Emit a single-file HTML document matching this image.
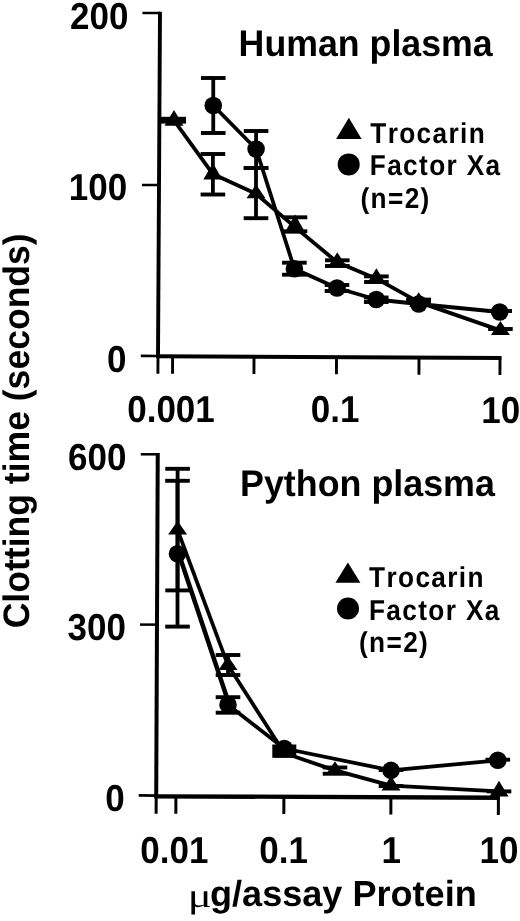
<!DOCTYPE html>
<html><head><meta charset="utf-8"><title>Clotting time</title>
<style>
html,body{margin:0;padding:0;background:#fff;}
body{width:520px;height:921px;overflow:hidden;}
svg{display:block;filter:blur(0.55px);}
text{font-family:"Liberation Sans", sans-serif;font-weight:bold;fill:#000;font-kerning:none;font-feature-settings:'kern' 0;text-rendering:geometricPrecision;}
</style></head><body>
<svg width="520" height="921" viewBox="0 0 520 921">
<rect width="520" height="921" fill="#fff"/>
<g fill="#000">
<!-- top axes -->
<line x1="160.0" y1="11.8" x2="158.0" y2="358.0" stroke="#000" stroke-width="3.9"/>
<line x1="158.0" y1="357.0" x2="157.9" y2="373.7" stroke="#000" stroke-width="2.9"/>
<line x1="156.5" y1="356.15" x2="501.4" y2="357.9" stroke="#000" stroke-width="4.0"/>
<line x1="140.8" y1="355.85" x2="158.0" y2="356.0" stroke="#000" stroke-width="2.7"/>
<line x1="142.4" y1="13.0" x2="160.0" y2="13.0" stroke="#000" stroke-width="2.5"/>
<line x1="142.0" y1="185.0" x2="159.0" y2="185.0" stroke="#000" stroke-width="2.5"/>
<line x1="172.6" y1="356.5" x2="172.55" y2="373.7" stroke="#000" stroke-width="2.9"/>
<line x1="254.0" y1="356.5" x2="253.95" y2="374.0" stroke="#000" stroke-width="2.9"/>
<line x1="336.5" y1="356.5" x2="336.45" y2="374.3" stroke="#000" stroke-width="2.9"/>
<line x1="419.0" y1="356.5" x2="418.95" y2="374.7" stroke="#000" stroke-width="2.9"/>
<line x1="500.0" y1="356.5" x2="499.95" y2="375.0" stroke="#000" stroke-width="2.9"/>
<polyline points="174,120.47 212.9,174.07 256,193.7 295,227.17 337.3,262.3 376.4,278.63 418.7,302.1 500.4,330.33" fill="none" stroke="#000" stroke-width="3.8" stroke-linejoin="round"/>
<polyline points="213.25,105.5 256.1,149 294.4,268.75 337,288 376.25,299.5 418.7,304 499.7,312" fill="none" stroke="#000" stroke-width="3.8" stroke-linejoin="round"/>
<polygon points="174,110 164.5,125.7 183.5,125.7"/>
<polygon points="212.9,163 203.4,179.6 222.4,179.6"/>
<rect x="200.6" y="152.05" width="24.6" height="3.9"/>
<rect x="200.6" y="192.55" width="24.6" height="3.9"/>
<rect x="211.0" y="154" width="3.8" height="40.5"/>
<polygon points="256,184.5 246.5,198.3 265.5,198.3"/>
<rect x="243.7" y="166.05" width="24.6" height="3.9"/>
<rect x="243.7" y="216.25" width="24.6" height="3.9"/>
<rect x="254.1" y="168" width="3.8" height="50.2"/>
<polygon points="295,214.5 284.2,233.5 305.8,233.5"/>
<rect x="282.7" y="215.35" width="24.6" height="3.9"/>
<rect x="282.7" y="229.35" width="24.6" height="3.9"/>
<rect x="293.1" y="217.3" width="3.8" height="14.0"/>
<polygon points="337.3,252.3 327.8,267.3 346.8,267.3"/>
<rect x="325.0" y="258.35" width="24.6" height="3.9"/>
<rect x="325.0" y="264.05" width="24.6" height="3.9"/>
<rect x="335.4" y="260.3" width="3.8" height="5.7"/>
<polygon points="376.4,268.3 366.9,283.8 385.9,283.8"/>
<rect x="364.1" y="274.45" width="24.6" height="3.9"/>
<rect x="364.1" y="280.05" width="24.6" height="3.9"/>
<rect x="374.5" y="276.4" width="3.8" height="5.6"/>
<polygon points="418.7,292.3 409.2,307 428.2,307"/>
<rect x="406.4" y="298.05" width="24.6" height="3.9"/>
<polygon points="500.4,321 490.9,335 509.9,335"/>
<rect x="488.1" y="327.05" width="24.6" height="3.9"/>
<circle cx="213.25" cy="105.5" r="8.8"/>
<rect x="200.95" y="76.05" width="24.6" height="3.9"/>
<rect x="200.95" y="131.05" width="24.6" height="3.9"/>
<rect x="211.35" y="78" width="3.8" height="55"/>
<circle cx="256.1" cy="149" r="8.8"/>
<rect x="243.8" y="129.05" width="24.6" height="3.9"/>
<rect x="243.8" y="166.05" width="24.6" height="3.9"/>
<rect x="254.2" y="131" width="3.8" height="37"/>
<circle cx="294.4" cy="268.75" r="8.8"/>
<rect x="282.1" y="260.75" width="24.6" height="3.9"/>
<rect x="282.1" y="272.75" width="24.6" height="3.9"/>
<rect x="292.5" y="262.7" width="3.8" height="12.0"/>
<circle cx="337" cy="288" r="8.8"/>
<rect x="324.7" y="283.05" width="24.6" height="3.9"/>
<rect x="324.7" y="289.05" width="24.6" height="3.9"/>
<rect x="335.1" y="285" width="3.8" height="6"/>
<circle cx="376.25" cy="299.5" r="8.8"/>
<rect x="363.95" y="295.55" width="24.6" height="3.9"/>
<rect x="363.95" y="300.05" width="24.6" height="3.9"/>
<rect x="374.35" y="297.5" width="3.8" height="4.5"/>
<circle cx="418.7" cy="304" r="8.8"/>
<rect x="406.4" y="297.65" width="24.6" height="3.9"/>
<rect x="406.4" y="299.25" width="24.6" height="3.9"/>
<rect x="416.8" y="299.6" width="3.8" height="1.6"/>
<circle cx="499.7" cy="312" r="8.8"/>
<rect x="487.4" y="309.05" width="24.6" height="3.9"/>
<rect x="160" y="116.8" width="26" height="6.8"/>
<text transform="translate(128.4,28.7) scale(1,1.07)" font-size="35" text-anchor="end" >200</text>
<text transform="translate(127.2,200.3) scale(1,1.07)" font-size="35" text-anchor="end" >100</text>
<text transform="translate(126.4,371.5) scale(1,1.07)" font-size="35" text-anchor="end" >0</text>
<text transform="translate(171,422) scale(1,1.07)" font-size="35" text-anchor="middle" >0.001</text>
<text transform="translate(335.2,422) scale(1,1.07)" font-size="35" text-anchor="middle" >0.1</text>
<text transform="translate(500.8,422.5) scale(1,1.07)" font-size="35" text-anchor="middle" >10</text>
<text transform="translate(238.6,55.8) scale(1.0206,1.06)" font-size="35" text-anchor="start" >Human plasma</text>
<polygon points="348.85,117.8 336.1,139.1 361.6,139.1"/>
<circle cx="348.7" cy="164.4" r="11"/>
<text transform="translate(370.3,142.5) scale(0.91,1)" font-size="28.8" text-anchor="start" letter-spacing="1.5">Trocarin</text>
<text transform="translate(369.8,175.1) scale(0.91,1)" font-size="28.8" text-anchor="start" letter-spacing="1.5">Factor Xa</text>
<text transform="translate(360.5,208.3) scale(0.91,1)" font-size="28.8" text-anchor="start" letter-spacing="1.5">(n=2)</text>
<!-- bottom axes -->
<line x1="157.75" y1="453.0" x2="156.2" y2="798.0" stroke="#000" stroke-width="4.0"/>
<line x1="156.2" y1="797.0" x2="156.1" y2="813.7" stroke="#000" stroke-width="3.0"/>
<line x1="154.6" y1="796.3" x2="499.9" y2="797.75" stroke="#000" stroke-width="4.3"/>
<line x1="138.7" y1="795.45" x2="156.2" y2="795.6" stroke="#000" stroke-width="2.7"/>
<line x1="140.8" y1="454.3" x2="157.7" y2="454.3" stroke="#000" stroke-width="2.5"/>
<line x1="140.0" y1="624.6" x2="157.0" y2="624.6" stroke="#000" stroke-width="2.5"/>
<line x1="175.9" y1="797" x2="175.85" y2="813.7" stroke="#000" stroke-width="3.0"/>
<line x1="283.9" y1="797" x2="283.85" y2="814.0" stroke="#000" stroke-width="3.0"/>
<line x1="390.9" y1="797" x2="390.85" y2="814.5" stroke="#000" stroke-width="3.0"/>
<line x1="498.4" y1="797" x2="498.35" y2="815.0" stroke="#000" stroke-width="3.0"/>
<polyline points="177.6,530.0 228,665.33" fill="none" stroke="#000" stroke-width="3.7" stroke-linejoin="round"/>
<polyline points="228,665.33 284.3,753.0 335,770.42 391,785.67 499,791.33" fill="none" stroke="#000" stroke-width="3.8" stroke-linejoin="round"/>
<polyline points="178.8,553.75 229.3,704.7" fill="none" stroke="#000" stroke-width="4.5" stroke-linejoin="round"/>
<polyline points="228.0,704.7 284.25,748.5 391,770.4 497.8,760.3" fill="none" stroke="#000" stroke-width="3.8" stroke-linejoin="round"/>
<polygon points="177.6,521 168.1,534.5 187.1,534.5"/>
<rect x="165.3" y="466.85" width="24.6" height="3.9"/>
<rect x="165.3" y="588.45" width="24.6" height="3.9"/>
<rect x="175.7" y="468.8" width="3.8" height="121.6"/>
<polygon points="228,656 218.5,670 237.5,670"/>
<rect x="215.7" y="653.05" width="24.6" height="3.9"/>
<rect x="215.7" y="673.05" width="24.6" height="3.9"/>
<rect x="226.1" y="655" width="3.8" height="20"/>
<polygon points="284.3,744 274.8,757.5 293.8,757.5"/>
<polygon points="335,761.25 325.5,775 344.5,775"/>
<rect x="322.7" y="765.55" width="24.6" height="3.9"/>
<rect x="322.7" y="771.8" width="24.6" height="3.9"/>
<rect x="333.1" y="767.5" width="3.8" height="6.25"/>
<polygon points="391,776 381.5,790.5 400.5,790.5"/>
<rect x="378.7" y="784.05" width="24.6" height="3.9"/>
<polygon points="499,780.8 489.5,796.6 508.5,796.6"/>
<rect x="486.7" y="789.45" width="24.6" height="3.9"/>
<circle cx="177.5" cy="553.75" r="8.8"/>
<rect x="165.2" y="478.85" width="24.6" height="3.9"/>
<rect x="165.2" y="624.65" width="24.6" height="3.9"/>
<rect x="175.6" y="480.8" width="3.8" height="145.8"/>
<circle cx="228.0" cy="704.7" r="8.8"/>
<rect x="215.7" y="695.25" width="24.6" height="3.9"/>
<rect x="215.7" y="710.75" width="24.6" height="3.9"/>
<rect x="226.1" y="697.2" width="3.8" height="15.5"/>
<circle cx="284.25" cy="748.5" r="8.8"/>
<circle cx="391" cy="770.4" r="8.8"/>
<rect x="378.7" y="768.05" width="24.6" height="3.9"/>
<circle cx="497.8" cy="760.3" r="8.8"/>
<rect x="485.5" y="757.75" width="24.6" height="3.9"/>
<rect x="272.3" y="744.5" width="24" height="13.3"/>
<text transform="translate(126.4,469.6) scale(1,1.07)" font-size="35" text-anchor="end" >600</text>
<text transform="translate(125.9,640) scale(1,1.07)" font-size="35" text-anchor="end" >300</text>
<text transform="translate(124.7,811.2) scale(1,1.07)" font-size="35" text-anchor="end" >0</text>
<text transform="translate(174.3,862.5) scale(1,1.07)" font-size="35" text-anchor="middle" >0.01</text>
<text transform="translate(283.6,862.7) scale(1,1.07)" font-size="35" text-anchor="middle" >0.1</text>
<text transform="translate(391.2,862.8) scale(1,1.07)" font-size="35" text-anchor="middle" >1</text>
<text transform="translate(499,863.2) scale(1,1.07)" font-size="35" text-anchor="middle" >10</text>
<text transform="translate(240.0,496) scale(1.024,1.06)" font-size="35" text-anchor="start" >Python plasma</text>
<polygon points="347.9,562.6 335.4,582.8 360.4,582.8"/>
<circle cx="348" cy="608.5" r="11"/>
<text transform="translate(369.1,587.4) scale(0.91,1)" font-size="28.8" text-anchor="start" letter-spacing="1.5">Trocarin</text>
<text transform="translate(369.0,620.0) scale(0.91,1)" font-size="28.8" text-anchor="start" letter-spacing="1.5">Factor Xa</text>
<text transform="translate(359.0,652.4) scale(0.91,1)" font-size="28.8" text-anchor="start" letter-spacing="1.5">(n=2)</text>
<text transform="translate(187.8,907.3) scale(1.30,1)" font-size="34.5" font-weight="normal" font-family="'Liberation Serif', 'DejaVu Serif', serif" style="font-weight:normal;font-family:'Liberation Serif','DejaVu Serif',serif">μ</text>
<text transform="translate(210,906) scale(1.031,1.035)" font-size="35" text-anchor="start" >g/assay Protein</text>
<text transform="translate(29.0,628.3) rotate(-90) scale(1,1.035)" font-size="35.55">Clotting time (seconds)</text>
</g></svg></body></html>
